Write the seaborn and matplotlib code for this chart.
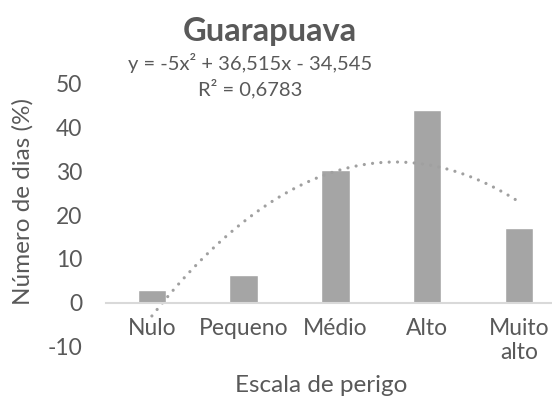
import numpy as np
import pandas as pd
import matplotlib
matplotlib.use('Agg')
import matplotlib.pyplot as plt
import seaborn as sns

# dados
categorias = ['Nulo', 'Pequeno', 'Médio', 'Alto', 'Muito\nalto']
dias_pct = [2.9, 6.3, 30.2, 44.0, 17.1]
# linha de tendencia polinomial (Excel): y = a*x^2 + b*x + c, x = 1..5
tendencia = [-5, 36.515, -34.545]
r2 = 0.6783
y_ticks = [-10, 0, 10, 20, 30, 40, 50]

df = pd.DataFrame({'cat': categorias, 'dias': dias_pct})

sns.set_style('white')
plt.rcParams['font.family'] = ['Lato', 'DejaVu Sans']
cinza_txt = '#595959'
cinza_barra = '#A5A5A5'

fig = plt.figure(figsize=(5.52, 4.04), dpi=100)
ax = fig.add_axes([106/552, 1-346.5/404, 446/552, 262.8/404])

sns.barplot(data=df, x='cat', y='dias', order=categorias, color=cinza_barra,
            width=0.31, saturation=1, ax=ax)

# tendencia
xs = np.linspace(1, 5, 200)
ys = np.polyval(tendencia, xs)
ax.plot(xs - 1, ys, color='#A0A0A0', lw=2.3, linestyle=(0, (0.01, 2.6)),
        dash_capstyle='round')

ax.set_xlim(-0.5, 4.36)
ax.set_ylim(-10, 50)
ax.set_yticks(y_ticks)
ax.set_yticklabels([str(t) for t in y_ticks])

for s in ['top', 'right', 'left']:
    ax.spines[s].set_visible(False)
ax.spines['bottom'].set_position(('data', 0))
ax.spines['bottom'].set_color('#D9D9D9')
ax.spines['bottom'].set_linewidth(1.5)
ax.tick_params(axis='both', length=0, labelsize=16.5, colors=cinza_txt)
ax.tick_params(axis='y', pad=17)
ax.tick_params(axis='x', pad=11)

ax.set_xlabel('Escala de perigo', fontsize=17.5, color=cinza_txt)
ax.set_ylabel('Número de dias (%)', fontsize=17.5, color=cinza_txt)
ax.xaxis.set_label_coords(0.482, -0.11)
ax.yaxis.set_label_coords(-0.163, 0.55)

fig.text(270/552, 1-31/404, 'Guarapuava', ha='center', va='center',
         fontsize=23.5, fontweight='bold', color=cinza_txt)
a, b, c = tendencia
eq = f'y = {a}x² + {b:.3f}x - {abs(c):.3f}'.replace('.', ',')
fig.text(250/552, 1-63/404, eq, ha='center', va='center', fontsize=14.5, color=cinza_txt)
fig.text(250/552, 1-89/404, f'R² = {r2}'.replace('.', ','), ha='center', va='center',
         fontsize=14.5, color=cinza_txt)

fig.savefig('out.png', dpi=100)
